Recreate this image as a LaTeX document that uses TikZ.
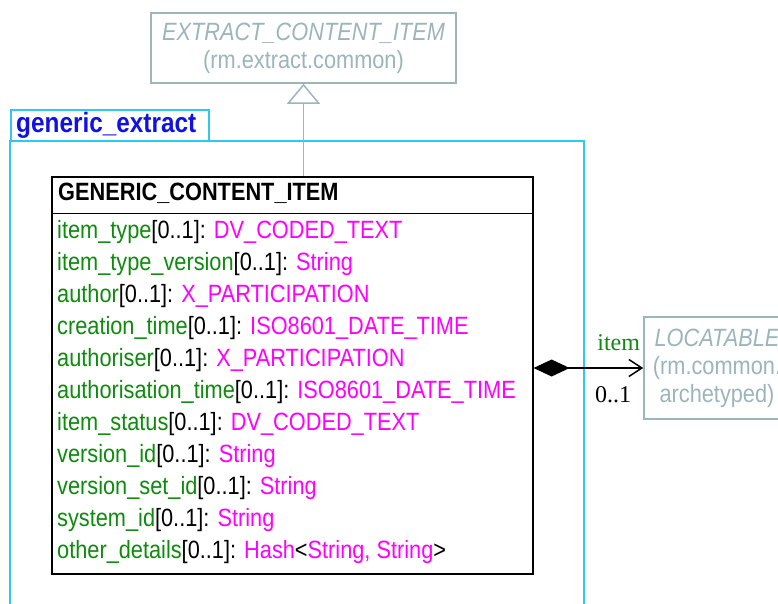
\documentclass[tikz,border=0pt]{standalone}
\usepackage{fontspec}
\setmainfont{Liberation Sans}[FakeStretch=0.87]
\newfontfamily\umlserif{Liberation Serif}
\usetikzlibrary{arrows.meta}

\definecolor{pkgcyan}{HTML}{2EC8F5}
\definecolor{pkgblue}{HTML}{1010E8}
\definecolor{refgray}{HTML}{9BB5B8}
\definecolor{attrgreen}{HTML}{0E8A0E}
\definecolor{typemagenta}{HTML}{FF00FF}

\newcommand{\attr}[2]{\textcolor{attrgreen}{#1}[0..1]: #2}
\newcommand{\typ}[1]{\textcolor{typemagenta}{#1}}

\tikzset{
  umlfont/.style={font=\fontsize{25}{28}\selectfont},
  refbox/.style={draw=refgray, line width=1.5pt, text=refgray, align=center, umlfont},
  classbox/.style={draw=black, line width=1.2pt},
  pkgline/.style={draw=pkgcyan, line width=1.8pt}
}

\begin{document}
\begin{tikzpicture}[x=1pt, y=-1pt]
  \useasboundingbox (0,0) rectangle (778,603);
  \clip (0,0) rectangle (778,603);

  % package generic_extract
  \draw[pkgline] (11,110) rectangle (209,141);
  \draw[pkgline] (10,141) rectangle (584,640);
  \node[anchor=base west, inner sep=0, text=pkgblue,
        font=\fontsize{28}{30}\selectfont\bfseries] (pkgname) at (16,132) {generic\_extract};

  % referenced classes
  \node[refbox, minimum width=305pt, minimum height=70pt] (eci) at (303.5,48)
    {\itshape EXTRACT\_CONTENT\_ITEM\\(rm.extract.common)};
  \node[refbox, minimum width=146pt, minimum height=102pt] (loc) at (717,368)
    {\itshape LOCATABLE\\(rm.common.\\archetyped)};

  % class GENERIC_CONTENT_ITEM
  \node[classbox, minimum width=481pt, minimum height=397pt] (gci) at (292.5,375.5) {};
  \draw[line width=1.2pt] ([yshift=-37pt]gci.north west) -- ([yshift=-37pt]gci.north east);
  \node[anchor=base west, inner sep=0, umlfont, font=\fontsize{25}{28}\selectfont\bfseries]
    (gcititle) at (58,200) {GENERIC\_CONTENT\_ITEM};

  \foreach \a [count=\i] in {
      {\attr{item\_type}{\typ{DV\_CODED\_TEXT}}},
      {\attr{item\_type\_version}{\typ{String}}},
      {\attr{author}{\typ{X\_PARTICIPATION}}},
      {\attr{creation\_time}{\typ{ISO8601\_DATE\_TIME}}},
      {\attr{authoriser}{\typ{X\_PARTICIPATION}}},
      {\attr{authorisation\_time}{\typ{ISO8601\_DATE\_TIME}}},
      {\attr{item\_status}{\typ{DV\_CODED\_TEXT}}},
      {\attr{version\_id}{\typ{String}}},
      {\attr{version\_set\_id}{\typ{String}}},
      {\attr{system\_id}{\typ{String}}},
      {\attr{other\_details}{\typ{Hash}<\typ{String, String}>}}} {
    \node[anchor=base west, inner sep=0, umlfont] (attr\i) at (57,{238+32*(\i-1)}) {\a};
  }

  % generalisation
  \draw[refgray, line width=1.5pt, {Triangle[open, length=20pt, width=33pt]}-]
    (eci.south) -- (eci.south |- gci.north);

  % composition
  \draw[line width=1.5pt, {Diamond[length=36pt, width=17pt]}-{Straight Barb[length=13pt, width=17pt]}]
    (gci.east |- loc.west) -- (loc.west);
  \node[anchor=base east, inner sep=0, text=attrgreen, font=\umlserif\fontsize{24}{26}\selectfont]
    (rolename) at ([xshift=-3pt, yshift=18pt]loc.west) {item};
  \node[anchor=base east, inner sep=0, font=\umlserif\fontsize{24}{26}\selectfont]
    (mult) at ([xshift=-12pt, yshift=-34pt]loc.west) {0..1};
\end{tikzpicture}
\end{document}
